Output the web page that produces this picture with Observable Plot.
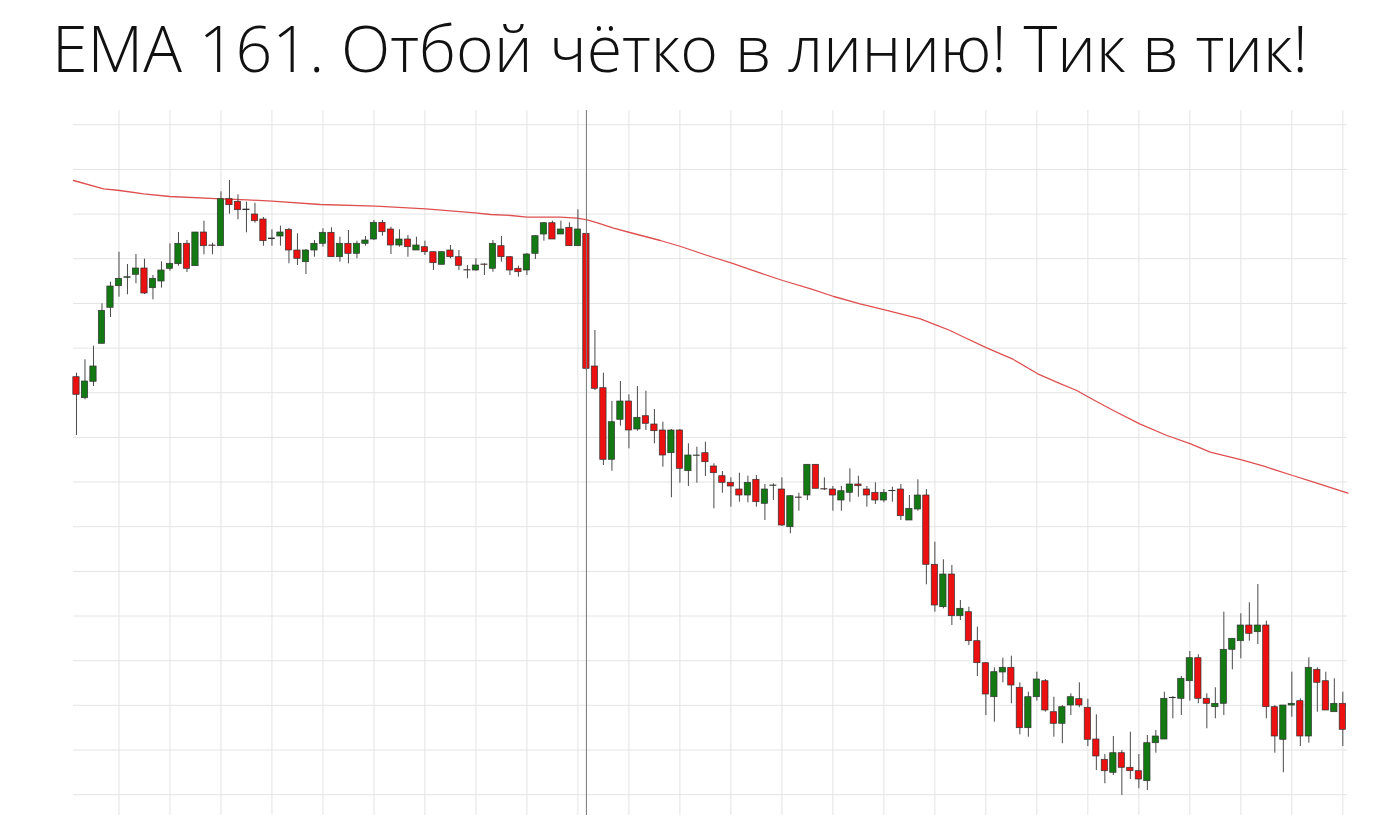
<!DOCTYPE html>
<html>
<head>
<meta charset="utf-8">
<script src="https://cdn.jsdelivr.net/npm/d3@7"></script>
<script src="https://cdn.jsdelivr.net/npm/@observablehq/plot@0.6"></script>
<style>
  html, body { margin: 0; padding: 0; background: #fff; overflow: hidden; }
  #title { display: block; }
  #chart svg { display: block; }
</style>
</head>
<body>
<svg id="title" width="1391" height="110">
  <text id="titleText" x="52" y="72" font-family="'Open Sans', 'Noto Sans', sans-serif" font-weight="300" font-size="62" fill="#111">EMA 161. Отбой чётко в линию! Тик в тик!</text>
</svg>
<div id="chart"></div>
<script>
// Candle data (price in chart points), one value per bar
const open = [423.3, 402.3, 418.7, 456.7, 492.7, 514.3, 522.7, 525.7, 532, 512.3,
  519, 531.7, 536.3, 556.7, 534.3, 568, 555, 554.3, 601.3, 598.7,
  591, 586, 581, 562, 564, 570.7, 550, 538.3, 550, 556.7,
  567.7, 543.3, 556.7, 546.7, 556.7, 561, 577.7, 571, 555, 561,
  550, 553.3, 548.3, 535.7, 550, 543.3, 530.3, 530, 536, 531.7,
  554.3, 543.3, 531.7, 530, 546.7, 566, 577.3, 566, 572.7, 554.3,
  566.7, 434, 412.3, 340.7, 380.7, 399, 371, 384.3, 376, 370,
  347.3, 370, 329.3, 344.7, 347.3, 334, 324.3, 317.7, 311, 305,
  320.7, 296.7, 314.7, 311, 273.3, 303, 305, 335.7, 311.3, 311,
  300, 307.7, 316, 311, 307.7, 300, 309.3, 311, 280, 291,
  305, 235.7, 193.3, 226, 184.3, 188.3, 159.3, 137.3, 103.3, 128,
  132.7, 112.7, 72.3, 103.3, 119.3, 88.3, 76.7, 95, 101.3, 92.7,
  61, 40.7, 27.7, 47.3, 32.7, 29.3, 19.3, 57.3, 61, 102.3,
  101.7, 119.3, 142.3, 101.7, 93.3, 96.7, 150.7, 159.3, 175, 168.3,
  175, 93.3, 60.7, 95, 99.3, 64, 130.7, 119.3, 88.3, 96.7];

const high = [427.3, 440.7, 454.3, 496.7, 518.3, 548.3, 536, 546, 541.3, 525,
  538.7, 556.7, 568, 560, 568, 579.3, 557.3, 608.7, 620, 605.7,
  598.3, 597.3, 583, 570.7, 574.3, 572, 566.7, 551, 560, 571.7,
  572.7, 563.3, 570, 559.3, 564, 580, 580, 573.3, 570.7, 565,
  563.3, 559.3, 548.3, 549, 555, 550, 535, 541.7, 536.7, 560,
  564, 544, 534.3, 547, 565, 578, 579.3, 579.3, 577.7, 590.7,
  566.7, 470, 427.3, 399, 419, 405.7, 414, 409.3, 391, 378.3,
  371, 371, 356.7, 353.3, 358.3, 336.7, 329, 322.7, 327.3, 324.3,
  325, 316, 316.7, 322.7, 305, 307.3, 336, 336, 322.7, 314,
  314, 331.7, 324.3, 314, 317.7, 311, 313.3, 316, 305, 320.7,
  311, 258.3, 240.7, 235, 200, 193.3, 173.3, 138, 132.7, 142.3,
  144.3, 117.7, 108.3, 128.3, 121, 103.3, 95, 106.7, 117.7, 101.3,
  85.7, 46, 64, 50, 68.3, 46, 65, 70, 108.3, 104,
  124, 149, 145.7, 106.7, 112.7, 188.3, 162, 186.7, 197.7, 216,
  179.3, 95, 95, 128.3, 101.7, 142.7, 132.7, 128.3, 121.7, 108.3];

const low = [365, 400.7, 414, 456.7, 483, 503.3, 505.7, 516.7, 506, 500.7,
  512.3, 529.3, 534.3, 528, 534.3, 545.7, 545.7, 554.3, 586.3, 580.7,
  567.7, 577.3, 554.3, 554.3, 554.3, 536.7, 535, 526, 543.3, 553.3,
  543.3, 538.3, 536.7, 541.7, 554.3, 560, 564.3, 546, 553.3, 543.3,
  550, 545, 530, 535.7, 541.7, 530, 521.7, 529.3, 525, 528.3,
  538.3, 525, 523.3, 525, 541, 559.3, 561, 566, 554.3, 554.3,
  430, 410, 335, 329.3, 374.3, 351.7, 369.3, 370, 356.7, 333.3,
  302.7, 317.3, 314, 317.3, 324, 291.7, 307.3, 293.3, 298.3, 297.7,
  293.3, 280, 300, 274, 266.7, 289.3, 300, 311.7, 310, 289.3,
  289.3, 298.3, 303.3, 293.3, 296, 297.7, 298.3, 280, 280, 289.3,
  215.7, 188.3, 191.7, 175, 180, 155, 124, 85, 78.3, 117.7,
  96.7, 65.7, 63.3, 99.3, 88.3, 63.3, 56.7, 85, 92.7, 54,
  30, 16.7, 25, 5, 21, 11.7, 10, 47.3, 61, 81.7,
  85, 99.3, 96.7, 71.7, 81.7, 85, 130.7, 141.7, 159.3, 156,
  81.7, 47.3, 27.7, 83.3, 54, 57.3, 88.3, 90, 88.3, 54];

const close = [405.7, 419, 434, 489.7, 514, 521.7, 523.3, 532, 507, 521.7,
  530, 536.7, 556.7, 531.7, 568, 554.3, 554.7, 601.3, 595.3, 590.3,
  590.3, 579.3, 559.3, 561.3, 568, 550, 541.7, 550, 556.7, 567.7,
  543.3, 556.7, 546.7, 556.7, 560, 577.7, 568.3, 555, 561, 553.3,
  555, 548.3, 537.3, 548.3, 543.3, 534.7, 530, 535, 535.7, 556.7,
  543.3, 530, 528.3, 546, 564.3, 577.3, 561, 571, 554.3, 571,
  431.7, 411.7, 340.7, 378.3, 399, 370, 382.7, 376.7, 369.3, 345,
  370, 331.7, 345, 345, 338.3, 327.3, 317.7, 314, 305, 317.7,
  298.3, 311, 315, 275, 304.3, 302.7, 335.7, 311.7, 311, 305,
  309.3, 316, 314.3, 305, 300, 307.7, 309.7, 284.3, 291.7, 305,
  235.7, 195, 226, 184.3, 191.7, 159.3, 137.3, 106, 128.3, 132.7,
  115, 72.3, 103.3, 121, 90, 76.7, 93.3, 103.3, 95, 60.7,
  44, 29.3, 47.3, 32.7, 29.3, 21, 57.3, 64, 101.7, 102.7,
  121.7, 142.3, 101.7, 96.7, 96.7, 150.7, 161.7, 175, 166.7, 175,
  93.3, 64, 95, 96.7, 64, 132.7, 117.7, 90, 96.7, 70.7];

// EMA 161 line, read at bar positions
const emaAt  = [-0.35, 3.2, 5.1, 7.9, 11, 17, 20.1, 23, 28.7, 35.2, 41.1, 46.9, 48.7, 51.1, 53, 56.9, 58.9, 60.1, 61.3, 63.2, 65.1, 68.7, 71.1, 74.6, 77.1, 80.5, 83.1, 86.4, 89.1, 92.2, 95.1, 99.3, 101.1, 102.8, 104, 107.1, 110.1, 113.1, 115.8, 117.7, 119.1, 122, 125.1, 128.3, 131.1, 133.4, 137.1, 139.7, 143.1, 145.2, 149.6];
const emaVal = [620, 611.7, 610, 606.7, 604, 601.7, 600.7, 599.3, 596, 594.3, 591.7, 587.7, 586, 585, 583.3, 583.3, 582.3, 580.7, 577.7, 572.3, 568, 560, 554, 544, 537.3, 527.3, 520, 511.7, 504, 496.7, 490.7, 481.7, 475.7, 470, 465, 452.7, 441.7, 426.7, 416.7, 410, 403.3, 390, 376.7, 365, 356.7, 348.3, 340.7, 334.3, 325, 319.3, 307.3];

// Grid ticks
const xTicks = d3.range(5, 150, 6);
const yTicks = [5.8, 50.5, 95.2, 139.8, 184.5, 229.1, 273.8, 318.5, 363.1, 407.8, 452.4, 497.1, 541.8, 586.4, 631.1, 675.8];
const markerBar = [60];

const upColor = "#137a13";
const downColor = "#ec1010";

const candles = open.map((o, i) => ({i, open: o, high: high[i], low: low[i], close: close[i]}));
const ema = emaAt.map((x, k) => ({x, v: emaVal[k]}));

const chart = Plot.plot({
  width: 1391,
  height: 721,
  marginLeft: 73,
  marginRight: 44,
  marginTop: 0,
  marginBottom: 16,
  x: {type: "linear", domain: [-0.35, 149.55], axis: null},
  y: {domain: [-15, 690], axis: null},
  style: {background: "#fff"},
  marks: [
    Plot.gridY(yTicks, {stroke: "#e4e4e4", strokeOpacity: 1, strokeWidth: 1}),
    Plot.gridX(xTicks, {stroke: "#e4e4e4", strokeOpacity: 1, strokeWidth: 1}),
    Plot.line(ema, {x: "x", y: "v", stroke: "#de5050", strokeWidth: 1.3}),
    Plot.ruleX(candles, {x: "i", y1: "low", y2: "high", stroke: "#4a4a4a", strokeWidth: 1}),
    Plot.rect(candles, {
      x1: d => d.i - 0.37,
      x2: d => d.i + 0.37,
      y1: "open",
      y2: "close",
      fill: d => d.close >= d.open ? upColor : downColor,
      stroke: "#333",
      strokeWidth: 0.7
    }),
    Plot.ruleX(markerBar, {stroke: "#777", strokeWidth: 1})
  ]
});
document.getElementById("chart").appendChild(chart);

// Fit title width to the reference span
const t = document.getElementById("titleText");
const w = t.getComputedTextLength();
if (w > 0) t.setAttribute("font-size", (62 * 1256 / w).toFixed(2));
</script>
</body>
</html>
